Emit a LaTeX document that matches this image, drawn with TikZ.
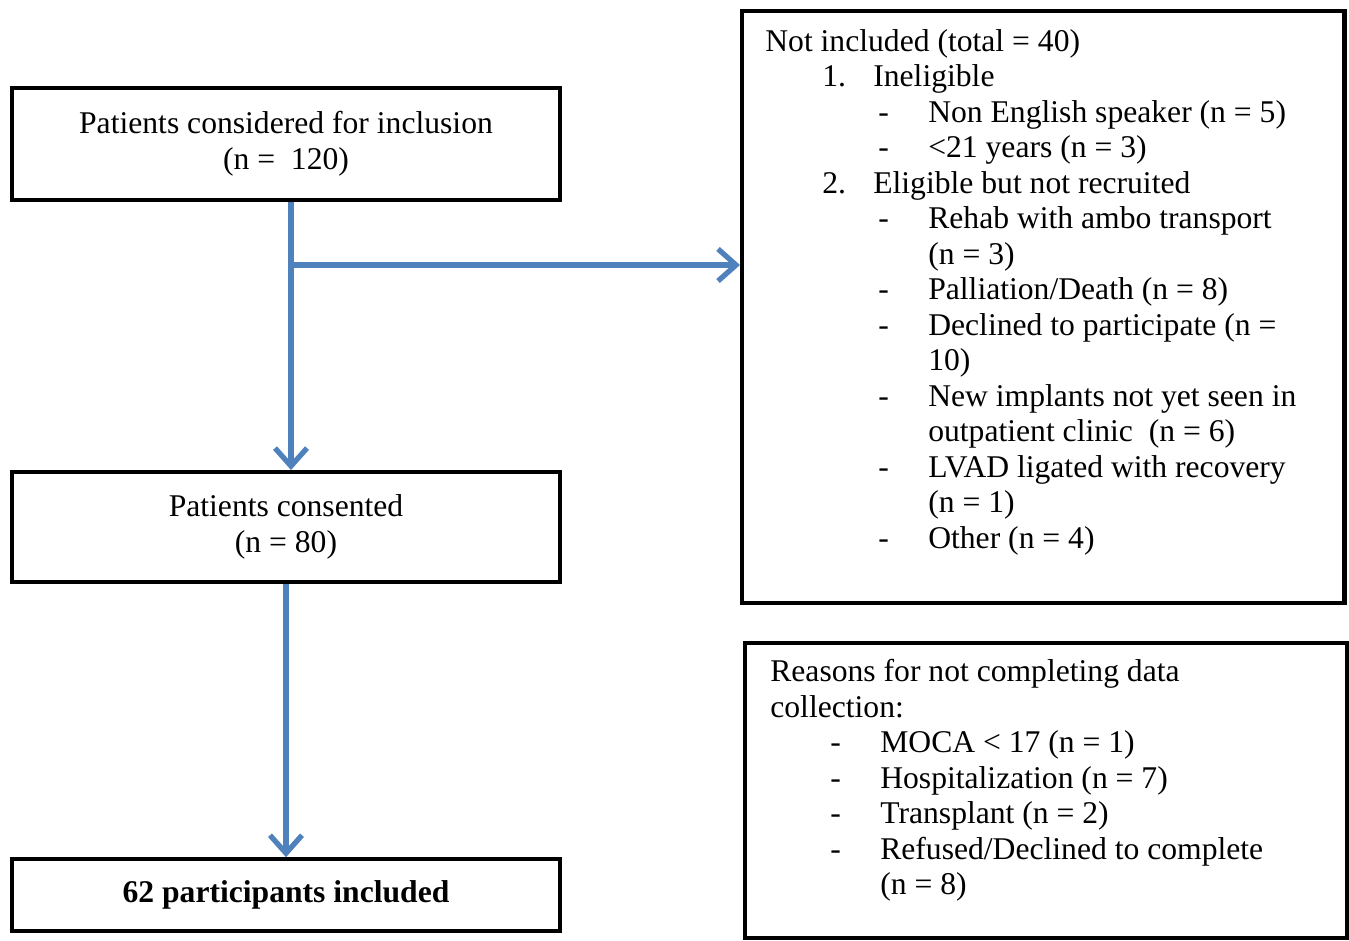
\documentclass[tikz,border=0pt]{standalone}
\usepackage{fontspec}
\setmainfont{Liberation Serif}
\usepackage{tikz}
\usetikzlibrary{positioning,arrows.meta,calc}
\definecolor{flowblue}{HTML}{4F81BD}
\newcommand{\numitem}[2]{\hspace*{1.14cm}\makebox[1.02cm][l]{#1}#2}
\newcommand{\dashitem}[2][2.26cm]{\hspace*{#1}\makebox[1cm][l]{-}#2}
\newcommand{\contline}[2][3.26cm]{\hspace*{#1}#2}
\tikzset{
	stagebox/.style={draw,line width=2.4pt,minimum width=10.96cm,align=center,font=\fontsize{18}{20.5}\selectfont},
	reasonbox/.style={draw,line width=2.4pt,minimum width=12.05cm,anchor=north west},
	reasontext/.style={inner sep=0pt,align=left,anchor=north west,font=\fontsize{18}{20.2}\selectfont},
	flow/.style={draw=flowblue,line width=3pt,-{Straight Barb[length=0.36cm,width=0.64cm]}}
}
\begin{document}
\begin{tikzpicture}[x=0.02cm,y=-0.02cm]
		\fill[white] (0,0) rectangle (1349,940);
		\useasboundingbox (0,0) rectangle (1349,940);
		\begin{scope}
			\node(consid) [stagebox,minimum height=2.24cm] at (286,144) {Patients considered for inclusion\\(n =\ \ 120)};
			\node(consented) [stagebox,minimum height=2.2cm,below=5.36cm of consid] {Patients consented\\(n = 80)};
			\node(final) [stagebox,minimum height=1.44cm,below=5.46cm of consented,font=\fontsize{18}{20.5}\selectfont\bfseries] {62 participants included};
			\node(notincl) [reasonbox,minimum height=11.84cm] at (740,9) {};
			\node(notincltxt) [reasontext] at (765,29) {Not included (total = 40)\\
				\numitem{1.}{Ineligible}\\
				\dashitem{Non English speaker (n = 5)}\\
				\dashitem{<21 years (n = 3)}\\
				\numitem{2.}{Eligible but not recruited}\\
				\dashitem{Rehab with ambo transport}\\
				\contline{(n = 3)}\\
				\dashitem{Palliation/Death (n = 8)}\\
				\dashitem{Declined to participate (n =}\\
				\contline{10)}\\
				\dashitem{New implants not yet seen in}\\
				\contline{outpatient clinic\ \ (n = 6)}\\
				\dashitem{LVAD ligated with recovery}\\
				\contline{(n = 1)}\\
				\dashitem{Other (n = 4)}};
			\node(notdone) [reasonbox,minimum height=5.9cm] at (743,641) {};
			\node(notdonetxt) [reasontext] at (770,659) {Reasons for not completing data\\
				collection:\\
				\dashitem[1.2cm]{MOCA < 17 (n = 1)}\\
				\dashitem[1.2cm]{Hospitalization (n = 7)}\\
				\dashitem[1.2cm]{Transplant (n = 2)}\\
				\dashitem[1.2cm]{Refused/Declined to complete}\\
				\contline[2.2cm]{(n = 8)}};
			\coordinate (split) at ([xshift=0.1cm]consid.south |- 0,265);
			\draw[flow] ([xshift=0.1cm]consid.south) -- ([xshift=0.1cm]consented.north);
			\draw[flow] (split) -- (split -| notincl.west);
			\draw[flow] (consented) -- (final);
		\end{scope}
	\end{tikzpicture}
\end{document}
